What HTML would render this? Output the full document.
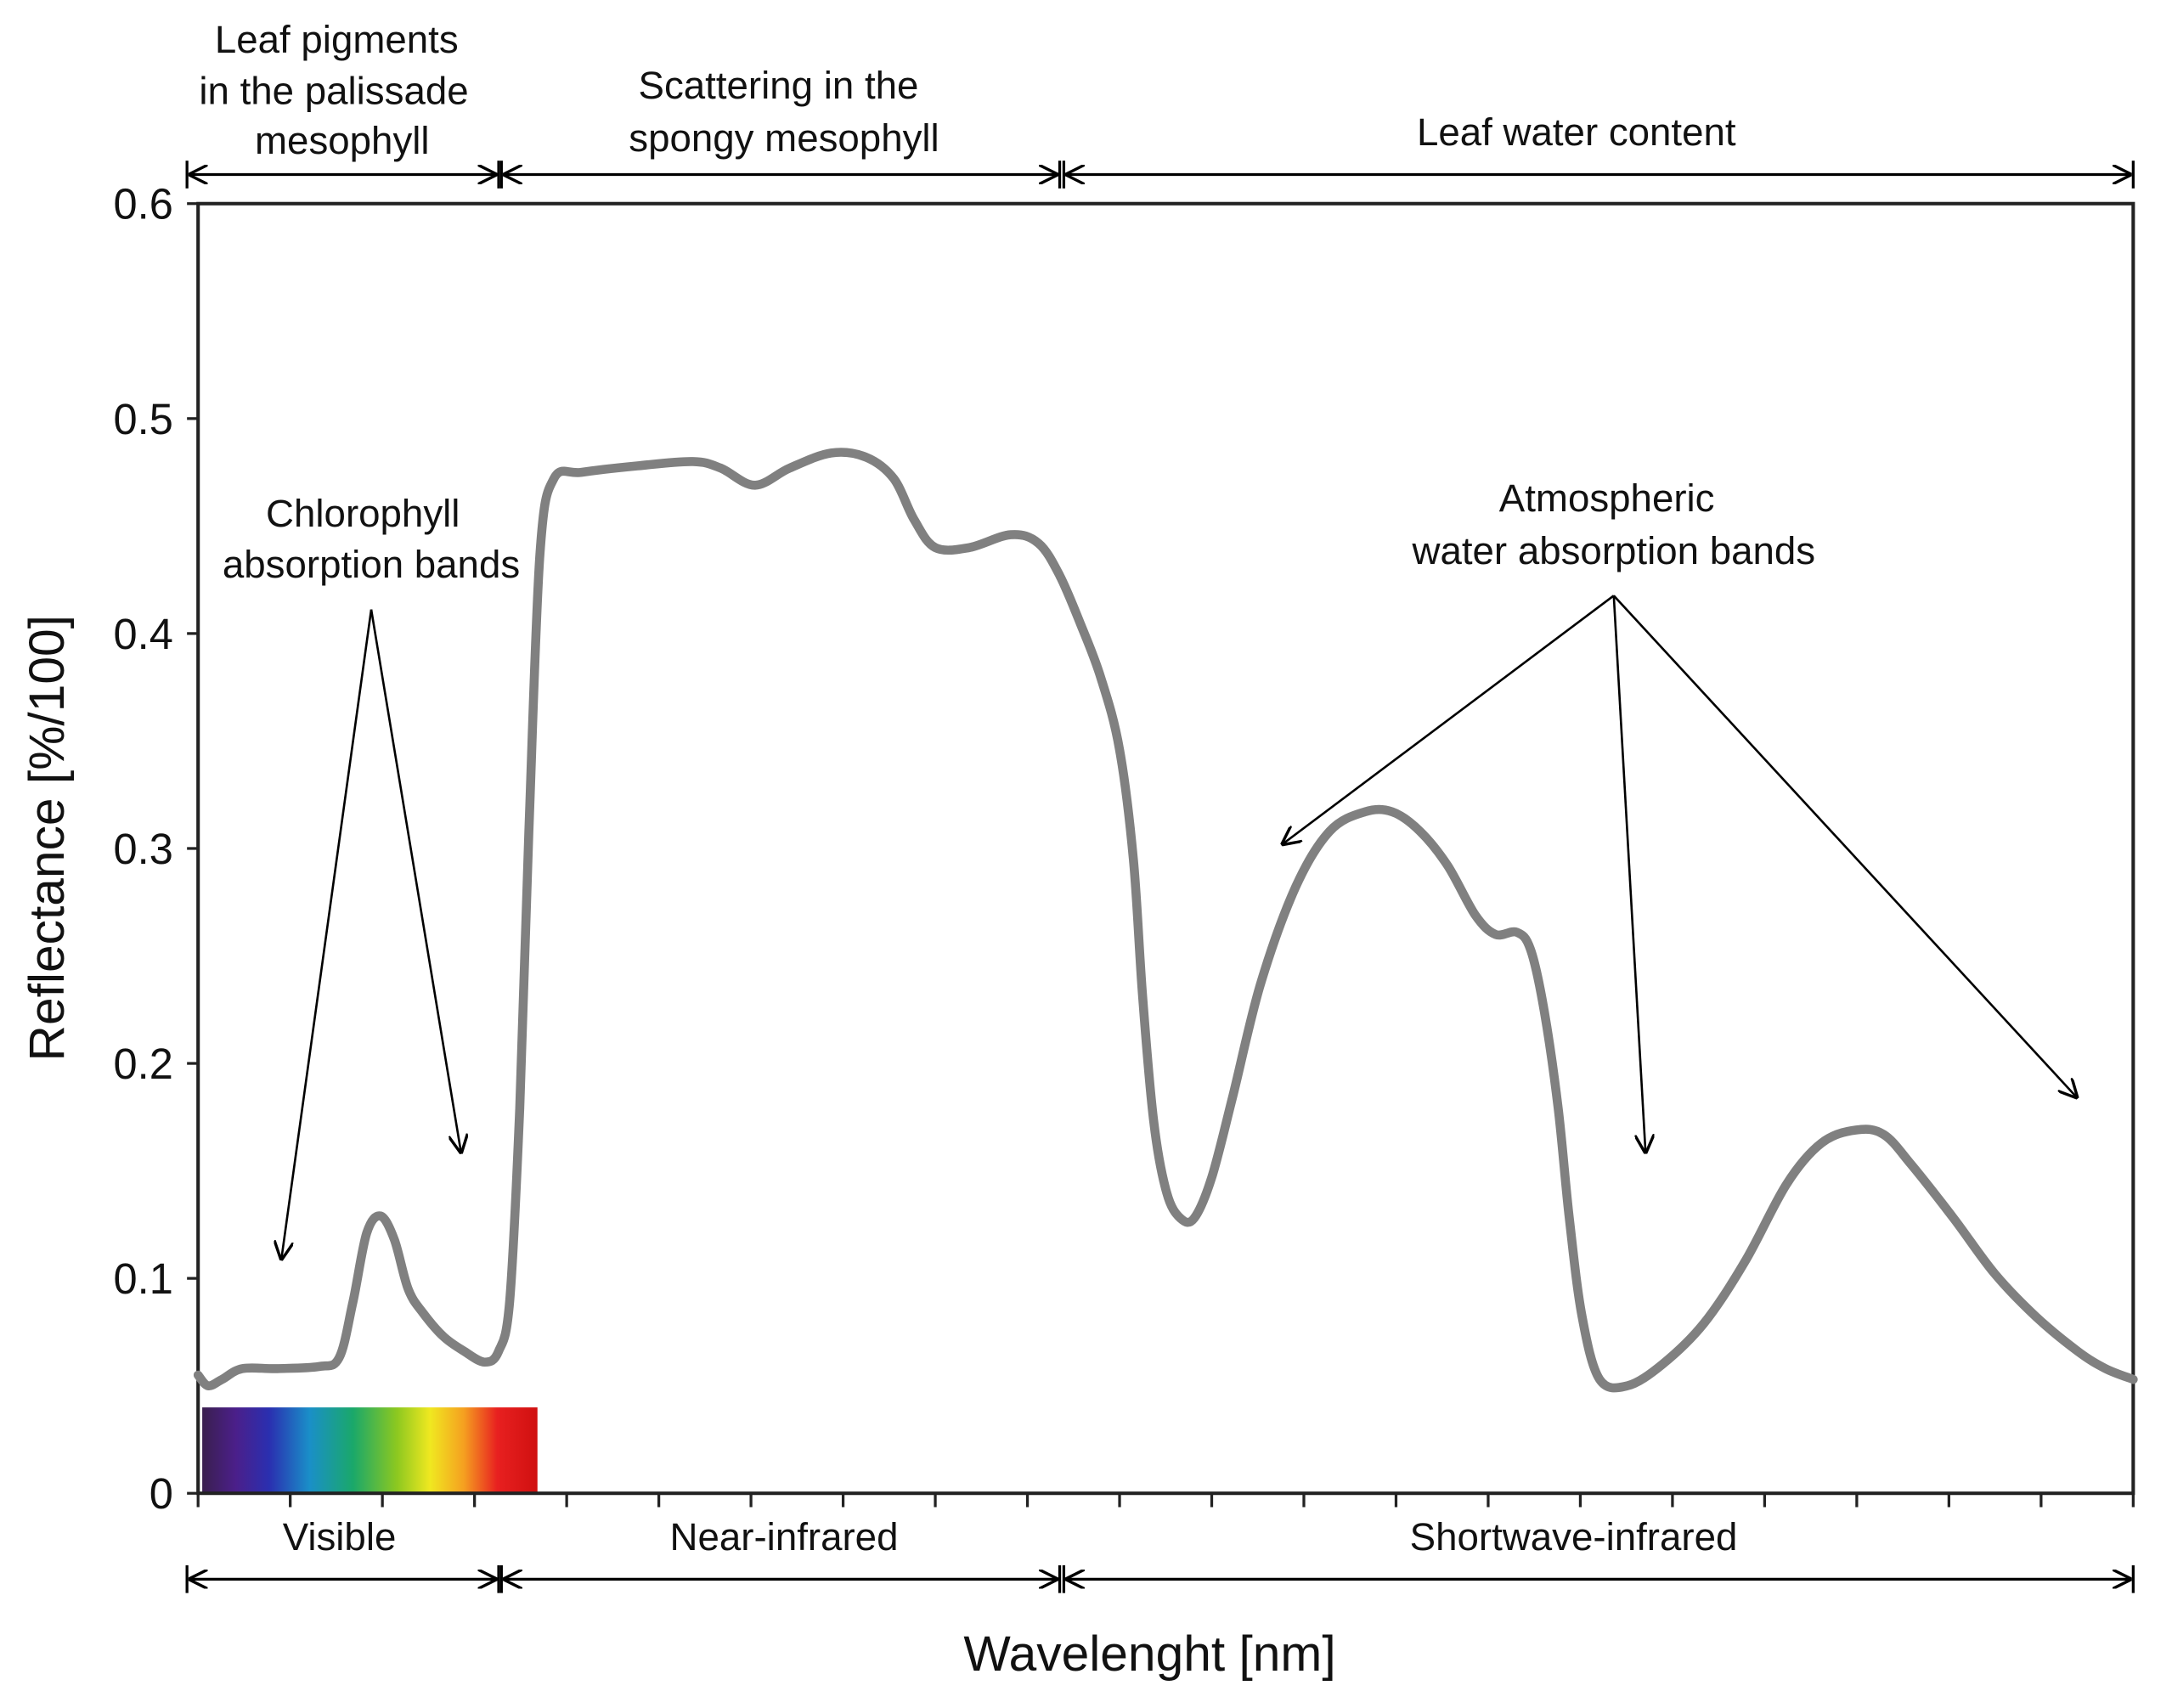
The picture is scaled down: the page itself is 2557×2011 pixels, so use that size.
<!DOCTYPE html>
<html><head><meta charset="utf-8"><style>
html,body{margin:0;padding:0;background:#fff;}
svg{display:block;}
text{font-family:"Liberation Sans",Arial,sans-serif;fill:#111;}
</style></head><body>
<svg id="chart" width="2557" height="2011" viewBox="0 0 1568 1233" preserveAspectRatio="none" xmlns="http://www.w3.org/2000/svg">
<defs>
<marker id="ah" viewBox="0 0 10 10" refX="10" refY="5" markerWidth="14" markerHeight="14" markerUnits="userSpaceOnUse" orient="auto-start-reverse"><path d="M0,0 L10,5 L0,10" fill="none" stroke="#000" stroke-width="1.5"/></marker>
<linearGradient id="spec" x1="0" x2="1" y1="0" y2="0">
<stop offset="0" stop-color="#3a1f4f"/><stop offset="0.1" stop-color="#4b1f8a"/><stop offset="0.2" stop-color="#2a2fb0"/><stop offset="0.32" stop-color="#1a8fc8"/><stop offset="0.45" stop-color="#1aa86a"/><stop offset="0.58" stop-color="#8cc820"/><stop offset="0.68" stop-color="#f0e820"/><stop offset="0.78" stop-color="#f5a020"/><stop offset="0.88" stop-color="#e82020"/><stop offset="1" stop-color="#d01010"/>
</linearGradient>
</defs>
<g id="static"></g>
<g id="marks"></g>
</svg>
<script>
const yTicks=[0,0.1,0.2,0.3,0.4,0.5,0.6];
const yTickLabels=["0","0.1","0.2","0.3","0.4","0.5","0.6"];
const wavelengths=[400,411,426,448,486,531,553,568,583,598,613,628,644,666,689,711,726,738,749,759,771,786,816,877,937,967,1004,1042,1087,1125,1155,1177,1200,1237,1282,1312,1335,1358,1380,1400,1415,1425,1437,1451,1466,1481,1500,1523,1553,1591,1628,1666,1696,1726,1756,1786,1808,1831,1846,1861,1876,1888,1902,1921,1951,1989,2034,2079,2124,2162,2199,2229,2259,2305,2350,2395,2440,2470,2500];
const reflectance=[0.055,0.050,0.053,0.058,0.058,0.059,0.063,0.089,0.121,0.129,0.118,0.095,0.084,0.073,0.066,0.061,0.066,0.089,0.179,0.308,0.437,0.472,0.475,0.478,0.480,0.477,0.469,0.477,0.484,0.482,0.472,0.453,0.440,0.440,0.446,0.442,0.427,0.404,0.379,0.346,0.295,0.231,0.173,0.140,0.128,0.128,0.147,0.185,0.237,0.282,0.308,0.317,0.317,0.308,0.292,0.269,0.260,0.261,0.253,0.224,0.179,0.128,0.082,0.053,0.050,0.060,0.079,0.108,0.144,0.163,0.169,0.167,0.153,0.128,0.102,0.082,0.066,0.058,0.053];
const NS="http://www.w3.org/2000/svg";
const L=143,R=1540,T=147,B=1078;
const xMin=400,xMax=2500,yMax=0.6;
function xs(v){return L+(v-xMin)/(xMax-xMin)*(R-L);}
function ys(v){return B-v/yMax*(B-T);}
function mk(tag,attrs,parent,txt){const e=document.createElementNS(NS,tag);for(const k in attrs)e.setAttribute(k,attrs[k]);if(txt!==undefined)e.textContent=txt;parent.appendChild(e);return e;}
const st=document.getElementById('static'),mg=document.getElementById('marks');
let sp=mk('rect',{x:146,y:1016,width:242,height:61,fill:'url(#spec)'},st);


let fr=mk('rect',{x:L,y:T,width:R-L,height:B-T,fill:'none',stroke:'#222','stroke-width':2.5},st);


yTicks.forEach((v,i)=>{
 let t=mk('line',{x1:L-8,x2:L,y1:ys(v),y2:ys(v),stroke:'#222','stroke-width':2},st);
 
 
 let lb=mk('text',{x:L-18,y:ys(v)+11,'text-anchor':'end','font-size':31},st,yTickLabels[i]);
 
 
});
for(let w=400;w<=2500;w+=100){
 let t=mk('line',{x1:xs(w),x2:xs(w),y1:B,y2:B+10,stroke:'#222','stroke-width':2},st);
 
 
}
function rangeArrow(x1,x2,y,name){
 let g=mk('g',{},st);
 
 
 mk('line',{x1:x1,x2:x1,y1:y-10,y2:y+10,stroke:'#000','stroke-width':2},g);
 mk('line',{x1:x2,x2:x2,y1:y-10,y2:y+10,stroke:'#000','stroke-width':2},g);
 mk('line',{x1:x1+1,x2:x2-1,y1:y,y2:y,stroke:'#000','stroke-width':2,'marker-start':'url(#ah)','marker-end':'url(#ah)'},g);
}
rangeArrow(135,360,126,'pigment-range-arrow');
rangeArrow(362,765,126,'scattering-range-arrow');
rangeArrow(768,1540,126,'water-range-arrow');
rangeArrow(135,360,1140,'visible-range-arrow');
rangeArrow(362,765,1140,'nir-range-arrow');
rangeArrow(768,1540,1140,'swir-range-arrow');
function txt(x,y,s,size,name,anchor){let e=mk('text',{x:x,y:y,'text-anchor':anchor||'middle','font-size':size},st,s);return e;}
txt(243,38,'Leaf pigments',28,'label-leaf-pigments');
txt(241,75,'in the palissade',28,'label-palissade');
txt(247,111,'mesophyll',28,'label-mesophyll');
txt(562,71,'Scattering in the',28,'label-scattering');
txt(566,109,'spongy mesophyll',28,'label-spongy');
txt(1138,105,'Leaf water content',28,'label-water-content');
txt(245,1119,'Visible',28,'label-visible');
txt(566,1119,'Near-infrared',28,'label-nir');
txt(1136,1119,'Shortwave-infrared',28,'label-swir');
txt(830,1206,'Wavelenght [nm]',36,'x-axis-title');
let yt=txt(0,0,'Reflectance [%/100]',36,'y-axis-title');yt.setAttribute('transform','translate(46,605) rotate(-90)');
txt(262,380,'Chlorophyll',28,'label-chlorophyll');
txt(268,417,'absorption bands',28,'label-chl-bands');
txt(1160,369,'Atmospheric',28,'label-atmospheric');
txt(1165,407,'water absorption bands',28,'label-water-bands');
function arr(x1,y1,x2,y2,name){let e=mk('line',{x1:x1,y1:y1,x2:x2,y2:y2,stroke:'#000','stroke-width':1.6,'marker-end':'url(#ah)'},st);}
arr(268,440,203,910,'chl-arrow-blue');
arr(268,440,333,833,'chl-arrow-red');
arr(1165,430,925,610,'water-arrow-1');
arr(1165,430,1188,833,'water-arrow-2');
arr(1165,430,1500,793,'water-arrow-3');
// smooth curve (Catmull-Rom)
const P=wavelengths.map((w,i)=>[xs(w),ys(reflectance[i])]);
let d='M'+P[0][0].toFixed(1)+','+P[0][1].toFixed(1);
for(let i=0;i<P.length-1;i++){
 const p0=P[Math.max(i-1,0)],p1=P[i],p2=P[i+1],p3=P[Math.min(i+2,P.length-1)];
 const c1=[p1[0]+(p2[0]-p0[0])/6,p1[1]+(p2[1]-p0[1])/6];
 const c2=[p2[0]-(p3[0]-p1[0])/6,p2[1]-(p3[1]-p1[1])/6];
 d+=' C'+c1[0].toFixed(1)+','+c1[1].toFixed(1)+' '+c2[0].toFixed(1)+','+c2[1].toFixed(1)+' '+p2[0].toFixed(1)+','+p2[1].toFixed(1);
}
let p=mk('path',{d:d,fill:'none',stroke:'#808080','stroke-width':6.5,'stroke-linejoin':'round','stroke-linecap':'round'},mg);


</script>
</body></html>
